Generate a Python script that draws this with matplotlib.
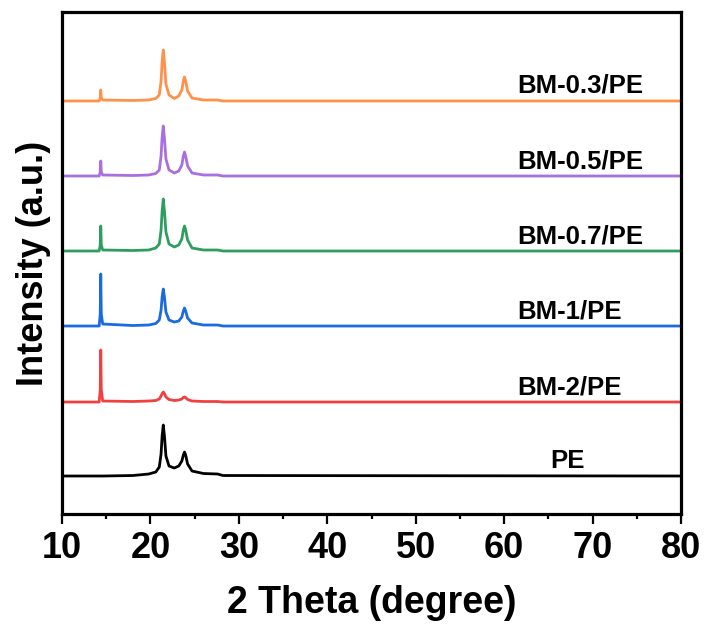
import matplotlib
matplotlib.use("Agg")
import matplotlib.pyplot as plt
from matplotlib.ticker import MultipleLocator

plt.rcParams.update({
    "font.family": ["Liberation Sans", "DejaVu Sans"],
    "font.weight": "bold",
    "axes.labelweight": "bold",
})

# 2-theta sample points (degrees)
TWO_THETA = [10.0, 14.2, 14.32, 14.38, 14.44, 14.6, 18.0, 19.8, 20.6, 21.0,
             21.2, 21.32, 21.45, 21.58, 21.75, 22.1, 22.7, 23.2, 23.55, 23.72,
             23.85, 23.98, 24.2, 24.7, 26.0, 27.6, 28.2, 80.0]

# intensities above each pattern's own baseline (a.u.)
PE = [0, 0, 0, 0, 0, 0, 0.5, 2, 4, 9,
      22, 40, 51, 40, 20, 10, 8, 10, 15, 21,
      24, 21, 12, 5, 2.5, 2, 0.5, 0]
BM_2 = [0, 0, 12, 52, 12, 1, 0.5, 1, 1.5, 3,
        6, 8.5, 10, 8.5, 5, 2.5, 1.5, 2, 3, 4.5,
        5, 4.5, 2.5, 1, 0.5, 0.5, 0, 0]
BM_1 = [0, 0, 12, 52, 12, 2, 0.5, 1, 2.5, 6,
        16, 29, 37, 29, 14, 6, 4, 5, 9, 15,
        18, 15, 8, 3, 1, 1, 0, 0]
BM_07 = [0, 0, 6, 25, 6, 1, 0.5, 1, 3, 7,
         21, 40, 52, 40, 19, 7, 4, 6, 12, 21,
         25, 21, 11, 3, 1, 1, 0, 0]
BM_05 = [0, 0, 4, 15, 4, 1, 0.5, 1, 2.5, 6,
         20, 39, 50, 38, 17, 6, 3, 5, 11, 20,
         24, 20, 10, 3, 1, 1, 0, 0]
BM_03 = [0, 0, 3, 11, 3, 1, 0.5, 1, 2.5, 6,
         20, 39, 51, 39, 17, 6, 2.5, 5, 11, 20,
         24, 20, 10, 3, 1, 1, 0, 0]

SAMPLES = ["PE", "BM-2/PE", "BM-1/PE", "BM-0.7/PE", "BM-0.5/PE", "BM-0.3/PE"]
SERIES = [PE, BM_2, BM_1, BM_07, BM_05, BM_03]
OFFSETS = [0, 74, 150, 225, 300, 375]
COLORS = ["#000000", "#F04040", "#1A6BE0", "#2E9E5E", "#A96FE0", "#FF914B"]
LABEL_X = [65.2, 61.45, 61.45, 61.45, 61.45, 61.45]


def main() -> None:
    fig = plt.figure(figsize=(7.04, 6.28), dpi=100)
    ax = fig.add_axes([0.0881, 0.1815, 0.8793, 0.7994])

    for name, ys, off, col, lx in zip(SAMPLES, SERIES, OFFSETS, COLORS, LABEL_X):
        ax.plot(TWO_THETA, [y + off for y in ys], color=col, linewidth=2.0,
                solid_joinstyle="round")
        ax.text(lx, off + 8, name, fontsize=18.5, fontweight="bold",
                ha="left", va="baseline")

    ax.set_xlim(10, 80)
    ax.set_ylim(-38, 464)
    ax.xaxis.set_major_locator(MultipleLocator(10))
    ax.xaxis.set_minor_locator(MultipleLocator(5))
    ax.set_yticks([])
    ax.tick_params(axis="x", which="major", direction="out", length=7,
                   width=1.6, labelsize=26, pad=5)
    ax.tick_params(axis="x", which="minor", direction="out", length=3.5,
                   width=1.6)
    for spine in ax.spines.values():
        spine.set_linewidth(2.3)

    ax.set_xlabel("2 Theta (degree)", fontsize=27, fontweight="bold",
                  labelpad=14)
    ax.set_ylabel("Intensity (a.u.)", fontsize=26, fontweight="bold",
                  labelpad=8)

    fig.savefig("out.png", dpi=100)


if __name__ == "__main__":
    main()
